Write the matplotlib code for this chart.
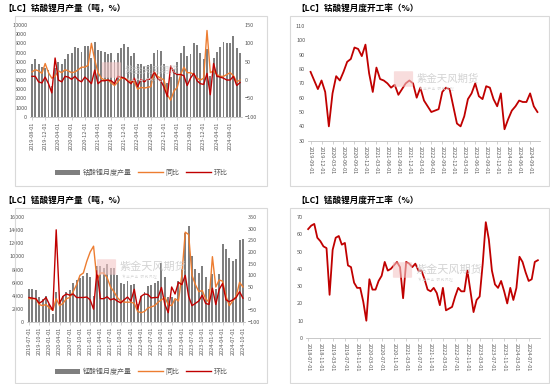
import matplotlib
matplotlib.use('Agg')
import matplotlib.pyplot as plt
import numpy as np
import pandas as pd
from matplotlib.patches import Rectangle, FancyBboxPatch

plt.rcParams['font.family'] = ['Noto Sans CJK SC', 'DejaVu Sans']

# ---------------- 数据 ----------------
# 钴酸锂月度产量 (吨) / 同比 / 环比 (%)
lco_start = '2019-08-01'
lco_output = [5800, 6300, 5800, 5400, 5300, 5100, 3300, 5300, 6000, 5700,
              6300, 6800, 6900, 7600, 7500, 7100, 7700, 7700, 6400, 8100,
              7300, 7200, 7100, 6800, 6900, 6200, 6900, 7500, 7900, 7600,
              6600, 6900, 5700, 5800, 5500, 5600, 5700, 7000, 7300, 7200,
              5700, 3700, 4300, 5200, 6000, 6900, 7700, 6600, 6800, 8000,
              7800, 7000, 6300, 7400, 4400, 6400, 7100, 7600, 8100, 8000,
              8000, 8800, 7500, 7000]
lco_yoy = [22, 28, 25, 18, 45, 20, 5, 10, 25, 20,
           28, 25, 20, 22, 28, 35, 35, 40, 100, 55,
           20, 5, 0, 0, -8, -15, -5, 5, 5, 0,
           -5, -5, -25, -20, -22, -20, -18, 22, 10, 5,
           0, -40, -55, -30, -20, 15, 35, 20, 20, 15,
           5, 0, 5, 135, 20, 25, 15, 10, 10, 15,
           20, 12, -5, 0]
lco_mom = [10, 10, -5, -8, 8, -10, -35, 60, 0, -5,
           10, 8, 2, 10, 0, -5, 8, 0, -10, 27,
           -10, -2, -2, 0, -2, -10, 10, 8, 5, -3,
           -10, 5, -18, 2, -5, 2, 2, 22, 5, -2,
           -20, -45, 38, 20, 15, 15, 12, -15, 5, 18,
           -2, -10, -12, 18, -40, 45, 10, 8, 5, 0,
           0, 10, -15, -7]

# 钴酸锂月度开工率 (%)
lco_rate_start = '2019-09-01'
lco_rate = [78, 72, 66, 72, 64, 40, 63, 75, 72, 78,
            85, 87, 95, 94, 89, 97, 77, 64, 81, 73,
            72, 70, 67, 69, 62, 66, 70, 72, 70, 60,
            67, 58, 54, 50, 51, 52, 64, 67, 66, 54,
            42, 40, 47, 59, 63, 70, 61, 59, 68, 67,
            59, 54, 63, 38, 45, 51, 54, 58, 57, 57,
            63, 54, 50]

# 锰酸锂月度产量 (吨) / 同比 / 环比 (%)
lmo_start = '2019-07-01'
lmo_output = [5100, 5000, 4900, 3800, 3500, 3900, 2700, 1200, 4600, 3400,
              3900, 4500, 4900, 5900, 6400, 6700, 7000, 7400, 6900, 4000,
              8600, 8500, 8300, 8900, 8200, 8200, 7200, 5900, 5800, 6200,
              5600, 5800, 2800, 3900, 4600, 5500, 5700, 6000, 6200, 9000,
              6800, 3800, 3800, 3300, 6300, 8100, 13500, 14700, 10100, 8100,
              7400, 8500, 6900, 5100, 7300, 5100, 7300, 11900, 11200, 9700,
              9300, 9600, 12500, 12700]
lmo_yoy = [0, 0, 0, -25, -30, -25, -40, -50, 0, -30,
           -20, 0, 5, 30, 60, 100, 110, 160, 200, 225,
           80, 110, 110, 90, 50, 30, 5, -10, -15, -15,
           -15, -20, -55, -60, -55, -40, -35, -30, -15, -5,
           5, -25, -30, 0, -10, 100, 285, 275, 100, 60,
           30, 35, 0, -15, 180, 50, 80, 75, 10, -30,
           -10, 10, 70, 50]
lmo_mom = [5, 2, 0, -20, -10, 5, -25, -50, 295, -20,
           10, 20, 15, 20, 5, 5, 5, 7, -5, -45,
           120, 0, 0, 8, -5, 0, -10, -18, -5, 7,
           -10, 40, -45, 10, 20, 18, 3, 5, 5, 48,
           -25, -60, 50, 20, 70, 60, 100, 10, -30, -20,
           -10, 15, -20, -25, 45, -25, 40, 65, -5, -13,
           -5, 5, 30, 2]

# 锰酸锂月度开工率 (%)
lmo_rate_start = '2018-07-01'
lmo_rate = [63, 65, 66, 58, 56, 53, 52, 25, 51, 58,
            59, 54, 55, 42, 41, 32, 29, 29, 21, 10,
            34, 28, 28, 33, 36, 44, 39, 40, 42, 44,
            41, 23, 44, 43, 41, 43, 39, 39, 34, 28,
            27, 29, 26, 19, 29, 16, 17, 18, 24, 29,
            27, 27, 39, 27, 15, 22, 24, 43, 67, 57,
            39, 31, 29, 33, 27, 20, 29, 22, 29, 47,
            44, 38, 33, 34, 44, 45]

# ---------------- 样式 ----------------
BAR = '#7f7f7f'
ORANGE = '#ED7D31'
RED = '#C00000'
TICK = '#595959'
FS_TICK = 4
FS_TITLE = 6.2

fig = plt.figure(figsize=(5.5, 3.84), dpi=100)
W, H = 550, 384


def px_axes(x0, y0, x1, y1):
    """像素坐标(左上原点) -> figure axes"""
    return fig.add_axes([x0 / W, 1 - y1 / H, (x1 - x0) / W, (y1 - y0) / H])


def panel_box(x0, y0, x1, y1):
    fig.patches.append(Rectangle((x0 / W, 1 - y1 / H), (x1 - x0) / W, (y1 - y0) / H,
                                 transform=fig.transFigure, fill=False,
                                 edgecolor='#d9d9d9', linewidth=0.8))


def watermark(x, y, fs):
    # 粉色 logo + 灰色文字
    fig.patches.append(FancyBboxPatch(((x - 22) / W, 1 - (y + 7) / H), 17 / W, 14 / H,
                                      boxstyle='round,pad=0.002', transform=fig.transFigure,
                                      facecolor='#f4c7c7', edgecolor='none', alpha=0.6, zorder=5))
    fig.text(x / W, 1 - y / H, '紫金天风期货', fontsize=fs, color='#c8c8c8',
             ha='left', va='center', alpha=0.8, zorder=6)
    fig.text((x + 2) / W, 1 - (y + 10) / H, '专 业 产 业   研 究 风 控', fontsize=2.5,
             color='#d8d8d8', ha='left', va='center', zorder=6)


def style_axis(ax, labels, pos, rot):
    for s in ['top', 'left', 'right']:
        ax.spines[s].set_visible(False)
    ax.spines['bottom'].set_color('#bfbfbf')
    ax.spines['bottom'].set_linewidth(0.6)
    ax.set_xticks(pos)
    ax.set_xticklabels(labels, rotation=rot, fontsize=FS_TICK, color=TICK)
    ax.tick_params(axis='x', length=2, width=0.5, color='#bfbfbf', pad=1.5)
    ax.tick_params(axis='y', length=0, labelsize=FS_TICK, labelcolor=TICK, pad=2)


def production_panel(box, area, title, start, output, yoy, mom, ylim_l, step_l,
                     ylim_r, step_r, every, legend_name, legend_y):
    panel_box(*box)
    fig.text((box[0] - 12) / W, 1 - (box[1] - 8) / H, title, fontsize=FS_TITLE,
             fontweight='bold', ha='left', va='center')
    months = pd.date_range(start, periods=len(output), freq='MS')
    x = np.arange(len(output))
    ax = px_axes(*area)
    ax.bar(x, output, width=0.58, color=BAR, label=legend_name, zorder=2)
    ax.set_ylim(*ylim_l)
    ax.set_yticks(np.arange(ylim_l[0], ylim_l[1] + 1, step_l))
    ax.set_xlim(-0.6, len(output) - 0.4)
    pos = x[::every]
    style_axis(ax, [m.strftime('%Y-%m-%d') for m in months[::every]], pos, 90)

    ax2 = ax.twinx()
    ax2.plot(x, yoy, color=ORANGE, linewidth=1.0, label='同比', zorder=3)
    ax2.plot(x, mom, color=RED, linewidth=1.0, label='环比', zorder=4)
    ax2.set_ylim(*ylim_r)
    ax2.set_yticks(np.arange(ylim_r[0], ylim_r[1] + 1, step_r))
    for s in ['top', 'left', 'right', 'bottom']:
        ax2.spines[s].set_visible(False)
    ax2.tick_params(axis='y', length=0, labelsize=FS_TICK, labelcolor=TICK, pad=2)

    h1, l1 = ax.get_legend_handles_labels()
    h2, l2 = ax2.get_legend_handles_labels()
    fig.legend(h1 + h2, l1 + l2, loc='center', bbox_to_anchor=((box[0] + box[2]) / 2 / W, 1 - legend_y / H),
               ncol=3, frameon=False, fontsize=5, handlelength=3.6, handleheight=0.8,
               columnspacing=0.9, handletextpad=0.4, labelcolor=TICK)
    return ax


def rate_panel(box, area, title, start, rate, ylim, step, every):
    panel_box(*box)
    fig.text((box[0] + 6) / W, 1 - (box[1] - 8) / H, title, fontsize=FS_TITLE,
             fontweight='bold', ha='left', va='center')
    months = pd.date_range(start, periods=len(rate), freq='MS')
    x = np.arange(len(rate))
    ax = px_axes(*area)
    ax.plot(x, rate, color=RED, linewidth=1.3)
    ax.set_ylim(*ylim)
    ax.set_yticks(np.arange(ylim[0], ylim[1] + 1, step))
    ax.set_xlim(-0.7, len(rate) - 0.3)
    style_axis(ax, [m.strftime('%Y-%m-%d') for m in months[::every]], x[::every], 270)
    return ax


production_panel((15, 16, 267, 186), (30, 25, 242, 116.7), '【LC】钴酸锂月产量（吨，%）',
                 lco_start, lco_output, lco_yoy, lco_mom, (0, 10000), 1000,
                 (-100, 150), 50, 4, '钴酸锂月度产量', 173)
rate_panel((290, 16, 549, 186), (308, 26, 540, 140.7), '【LC】钴酸锂月度开工率（%）',
           lco_rate_start, lco_rate, (30, 110), 10, 3)
production_panel((15, 208, 267, 383), (27, 217, 245, 322), '【LC】锰酸锂月产量（吨，%）',
                 lmo_start, lmo_output, lmo_yoy, lmo_mom, (0, 16000), 2000,
                 (-100, 350), 50, 3, '锰酸锂月度产量', 372)
rate_panel((290, 208, 549, 383), (306, 217, 540, 338), '【LC】锰酸锂月度开工率（%）',
           lmo_rate_start, lmo_rate, (0, 70), 10, 4)

watermark(125, 70, 6.5)
watermark(417, 79, 7.5)
watermark(120, 267, 8)
watermark(416, 270, 8)

fig.savefig('out.png', dpi=100)
